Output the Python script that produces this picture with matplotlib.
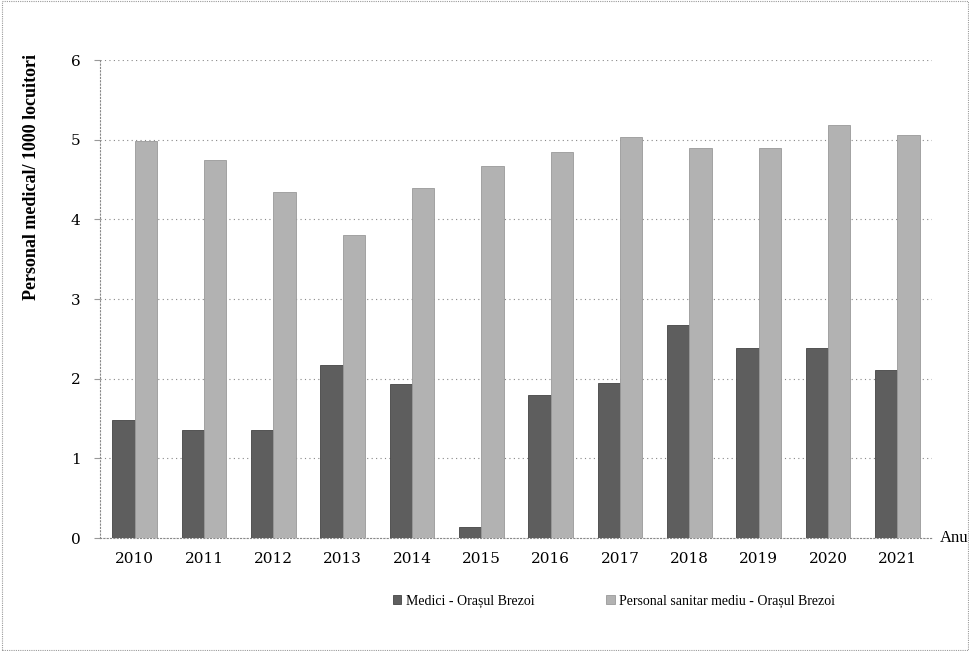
import matplotlib
matplotlib.use("Agg")
import matplotlib.pyplot as plt
import numpy as np

years = ["2010", "2011", "2012", "2013", "2014", "2015", "2016", "2017", "2018", "2019", "2020", "2021"]
medici = [1.48, 1.36, 1.36, 2.17, 1.93, 0.14, 1.79, 1.94, 2.67, 2.38, 2.38, 2.11]
personal = [4.98, 4.75, 4.34, 3.80, 4.39, 4.67, 4.84, 5.03, 4.90, 4.90, 5.18, 5.06]
series_names = ["Medici - Orașul Brezoi", "Personal sanitar mediu - Orașul Brezoi"]

plt.rcParams['font.family'] = ['Liberation Serif', 'DejaVu Serif']

fig = plt.figure(figsize=(9.7, 6.51), dpi=100)
ax = fig.add_axes([100/970, 1-538/651, 832/970, 478/651])

x = np.arange(len(years))
w = 0.32
b1 = ax.bar(x - w/2, medici, w, color='#5e5e5e', edgecolor='#444444', linewidth=0.6,
            label=series_names[0], zorder=3)
b2 = ax.bar(x + w/2, personal, w, color='#b2b2b2', edgecolor='#999999', linewidth=0.6,
            label=series_names[1], zorder=3)

ax.set_xlim(-0.5, len(years) - 0.5)
ax.set_ylim(0, 6)
ax.set_yticks(range(0, 7))
ax.set_xticks(x)
ax.set_xticklabels(years, fontsize=11, family=['DejaVu Serif'])
for t in ax.get_yticklabels():
    t.set_family(['DejaVu Serif'])
ax.tick_params(axis='y', labelsize=11, length=4, color='#999999', pad=10)
ax.tick_params(axis='x', length=0, pad=10)
ax.yaxis.grid(True, linestyle=(0, (1, 3)), color='#888888', linewidth=0.8, zorder=0)
for s in ['top', 'right']:
    ax.spines[s].set_visible(False)
for s in ['left', 'bottom']:
    ax.spines[s].set_linestyle((0, (1, 2)))
    ax.spines[s].set_color('#888888')
    ax.spines[s].set_linewidth(0.8)

ax.set_ylabel("Personal medical/ 1000 locuitori", fontsize=13, fontweight='bold')
ax.yaxis.set_label_coords(-60/832, (538-177)/478)
fig.text(940/970, 1-538/651, "Anu", fontsize=12, va='center', ha='left')

fig.legend(handles=[b1, b2], loc='center', bbox_to_anchor=(614/970, 1-601/651), ncol=2,
           frameon=False, fontsize=10, handlelength=0.6, handleheight=0.6,
           handletextpad=0.3, columnspacing=5.2)

# figure border
fig.patches.append(plt.Rectangle((0.002, 0.002), 0.996, 0.996, transform=fig.transFigure,
                                 fill=False, edgecolor='#999999', linewidth=0.8,
                                 linestyle=(0, (1, 1))))

fig.savefig("out.png", dpi=100)
